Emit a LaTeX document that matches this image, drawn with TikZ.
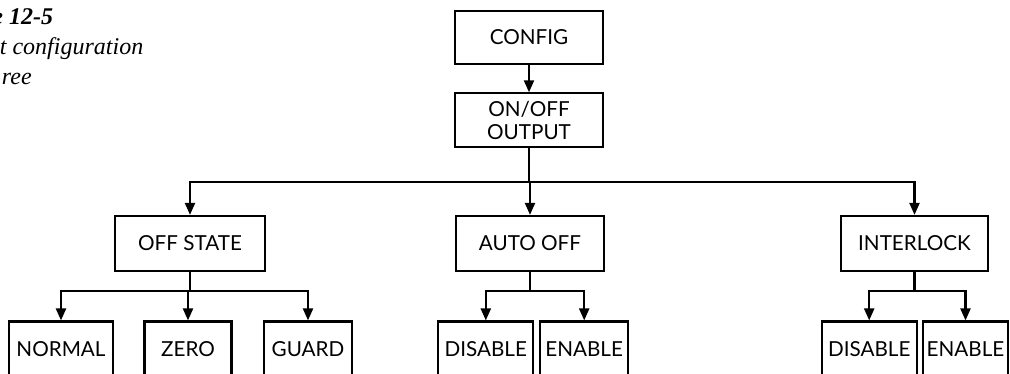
\documentclass[tikz,border=0pt]{standalone}
\usepackage{fontspec}
\setmainfont{Liberation Serif}
\newfontfamily\labfont{Lato}
\newfontfamily\capfont{Liberation Serif}
\usetikzlibrary{arrows.meta}
\tikzset{
  box/.style={draw, line width=1.6pt, inner sep=0pt, font=\labfont\fontsize{15.5}{17}\selectfont, align=center},
  arr/.style={line width=1.6pt, -{Triangle[length=9pt,width=7.5pt]}},
  captext/.style={inner sep=0pt, anchor=base east},
}
\begin{document}
\begin{tikzpicture}[x=0.75pt,y=-0.75pt]
\useasboundingbox (0,0) rectangle (1010,374);
% caption (cut at the left edge, as in the reference)
\node[captext] (cap1) at (53.3,25) {\capfont\fontsize{18}{21}\selectfont\bfseries\itshape e 12-5};
\node[captext] (cap2) at (143.5,55) {\capfont\fontsize{18}{21}\selectfont\itshape t configuration};
\node[captext] (cap3) at (32,85) {\capfont\fontsize{18}{21}\selectfont\itshape ree};
% nodes
\node[box, minimum width=148*0.75pt, minimum height=53.6*0.75pt] (config) at (529,37.5) {CONFIG};
\node[box, minimum width=148*0.75pt, minimum height=53.7*0.75pt] (onoff) at (529,120.2) {ON/OFF\\OUTPUT};
\node[box, minimum width=149.3*0.75pt, minimum height=54.7*0.75pt] (offstate) at (190,243.3) {OFF STATE};
\node[box, minimum width=147.7*0.75pt, minimum height=54.7*0.75pt] (autooff) at (530,243.3) {AUTO OFF};
\node[box, minimum width=146.3*0.75pt, minimum height=54.7*0.75pt] (interlock) at (914.5,243.3) {INTERLOCK};
\node[box, minimum width=104.3*0.75pt, minimum height=55*0.75pt] (normal) at (61,349) {NORMAL};
\node[box, minimum width=87*0.75pt, minimum height=55*0.75pt] (zero) at (188,349) {ZERO};
\node[box, minimum width=87.3*0.75pt, minimum height=55*0.75pt] (guard) at (308,349) {GUARD};
\node[box, minimum width=95*0.75pt, minimum height=55*0.75pt] (disA) at (485.8,349) {DISABLE};
\node[box, minimum width=88.3*0.75pt, minimum height=55*0.75pt] (enA) at (584.2,349) {ENABLE};
\node[box, minimum width=95*0.75pt, minimum height=55*0.75pt] (disB) at (869.2,349) {DISABLE};
\node[box, minimum width=85.6*0.75pt, minimum height=55*0.75pt] (enB) at (965.5,349) {ENABLE};
% levels of the horizontal buses
\coordinate (bus) at (0,182);
\coordinate (br) at (0,291);
% connectors
\draw[arr] (config) -- (onoff);
\draw[arr] (onoff.south) -- (onoff.south |- bus) -| (offstate.north);
\draw[arr] (onoff.south) -- (onoff.south |- bus) -| (autooff.north);
\draw[arr] (onoff.south) -- (onoff.south |- bus) -| (interlock.north);
\draw[arr] (offstate.south) -- (offstate.south |- br) -| (normal.north);
\draw[arr] (offstate.south) -- (offstate.south |- br) -| (zero.north);
\draw[arr] (offstate.south) -- (offstate.south |- br) -| (guard.north);
\draw[arr] (autooff.south) -- (autooff.south |- br) -| (disA.north);
\draw[arr] (autooff.south) -- (autooff.south |- br) -| (enA.north);
\draw[arr] (interlock.south) -- (interlock.south |- br) -| (disB.north);
\draw[arr] (interlock.south) -- (interlock.south |- br) -| (enB.north);
\end{tikzpicture}
\end{document}
